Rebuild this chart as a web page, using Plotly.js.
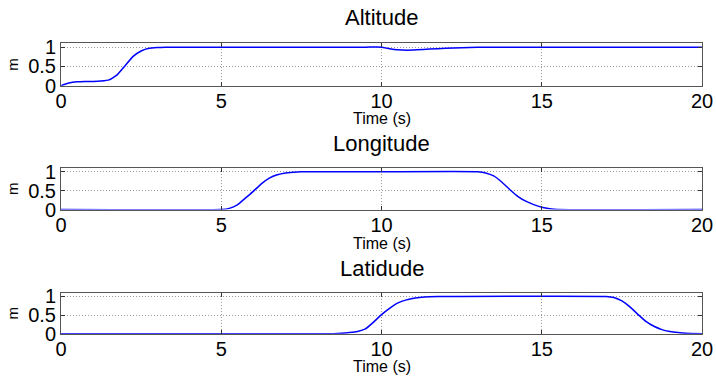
<!DOCTYPE html>
<html>
<head>
<meta charset="utf-8">
<script src="https://cdn.plot.ly/plotly-3.0.1.min.js"></script>
<style>html,body{margin:0;padding:0;background:#fff;}#chart{width:716px;height:377px;}</style>
</head>
<body>
<div id="chart"></div>
<script>
// ---- data ----
const titles = ["Altitude", "Longitude", "Latidude"];
const xTitle = "Time (s)";
const yTitle = "m";
const xTickVals = [0, 5, 10, 15, 20];
const yTickVals = [0, 0.5, 1];
const yTickText = ["0", "0.5", "1"];

const altT = [0,0.1,0.25,0.5,0.75,1.0,1.25,1.5,1.75,2.0,2.25,2.5,2.75,3.0,3.25,3.5,5,9.5,10,10.25,10.5,10.8,11.1,11.5,12,12.5,13,14,20];
const altY = [0,0.03,0.07,0.1,0.11,0.11,0.12,0.15,0.28,0.52,0.76,0.9,0.97,0.99,1.0,1.0,1.0,1.0,1.0,0.96,0.93,0.92,0.93,0.95,0.97,0.985,0.995,1.0,1.0];

const lonT = [0,5,5.25,5.5,5.75,6.0,6.25,6.5,6.75,7.0,7.25,7.5,10,13,13.25,13.5,13.75,14,14.25,14.5,14.75,15,15.25,15.5,20];
const lonY = [0,0,0.03,0.12,0.3,0.48,0.68,0.83,0.92,0.97,0.99,1,1,1,0.97,0.89,0.73,0.53,0.35,0.22,0.13,0.06,0.02,0,0];

const latT = [0,8.5,8.75,9,9.25,9.5,9.75,10,10.25,10.5,10.75,11,11.25,11.5,12,17,17.25,17.5,17.75,18,18.25,18.5,18.75,19,19.25,19.5,20];
const latY = [0,0,0.01,0.03,0.06,0.13,0.31,0.51,0.68,0.82,0.9,0.95,0.98,0.99,1,1,0.97,0.88,0.72,0.52,0.33,0.2,0.11,0.06,0.03,0.01,0];

// ---- layout ----
const W = 716, H = 377;
const xDom = [61 / W, 702 / W];
const panels = [[43.3, 85.7], [168, 209.5], [292.7, 333.7]]; // pixel top/bottom
const titleY = [18, 143, 268];
const xTitleY = [118, 243, 366];
const FONT = "Liberation Sans, Arial, sans-serif";

const series = [[altT, altY], [lonT, lonY], [latT, latY]];
const traces = series.map((s, i) => ({
  x: s[0], y: s[1], type: "scatter", mode: "lines",
  line: {color: "#0000ff", width: 1.5, shape: "spline", smoothing: 0.4},
  xaxis: i === 0 ? "x" : "x" + (i + 1),
  yaxis: i === 0 ? "y" : "y" + (i + 1),
  showlegend: false, hoverinfo: "skip"
}));

const layout = {
  width: W, height: H,
  margin: {l: 0, r: 0, t: 0, b: 0},
  paper_bgcolor: "#fff", plot_bgcolor: "#fff",
  font: {family: FONT, color: "#000"},
  annotations: []
};

panels.forEach((p, i) => {
  const sx = i === 0 ? "" : String(i + 1);
  layout["xaxis" + sx] = {
    domain: xDom, range: [0, 20], tickvals: xTickVals, ticktext: xTickVals.map(String),
    anchor: "y" + sx,
    showline: true, linecolor: "#555", linewidth: 1, mirror: "ticks",
    ticks: "inside", ticklen: 4, tickcolor: "#333",
    showgrid: true, gridcolor: "#999", griddash: "1px,2px", gridwidth: 1,
    zeroline: false,
    tickfont: {size: 20, family: FONT, color: "#000"},
    ticklabelstandoff: -3,
    automargin: false
  };
  layout["yaxis" + sx] = {
    domain: [(H - p[1]) / H, (H - p[0]) / H], range: [0, 1.1],
    tickvals: yTickVals, ticktext: yTickText,
    anchor: "x" + sx,
    showline: true, linecolor: "#555", linewidth: 1, mirror: "ticks",
    ticks: "inside", ticklen: 4, tickcolor: "#333",
    showgrid: true, gridcolor: "#999", griddash: "1px,2px", gridwidth: 1,
    zeroline: false,
    tickfont: {size: 20, family: FONT, color: "#000"},
    title: {text: yTitle, font: {size: 15, family: FONT, color: "#000"}, standoff: 5},
    automargin: false
  };
  layout.annotations.push({
    text: titles[i], xref: "paper", yref: "paper",
    x: (xDom[0] + xDom[1]) / 2, y: (H - titleY[i]) / H,
    xanchor: "center", yanchor: "middle", showarrow: false,
    font: {size: 22, family: FONT, color: "#000"}
  });
  layout.annotations.push({
    text: xTitle, xref: "paper", yref: "paper",
    x: (xDom[0] + xDom[1]) / 2, y: (H - xTitleY[i]) / H,
    xanchor: "center", yanchor: "middle", showarrow: false,
    font: {size: 16, family: FONT, color: "#000"}
  });
});

Plotly.newPlot("chart", traces, layout, {displayModeBar: false, staticPlot: true});
</script>
</body>
</html>
